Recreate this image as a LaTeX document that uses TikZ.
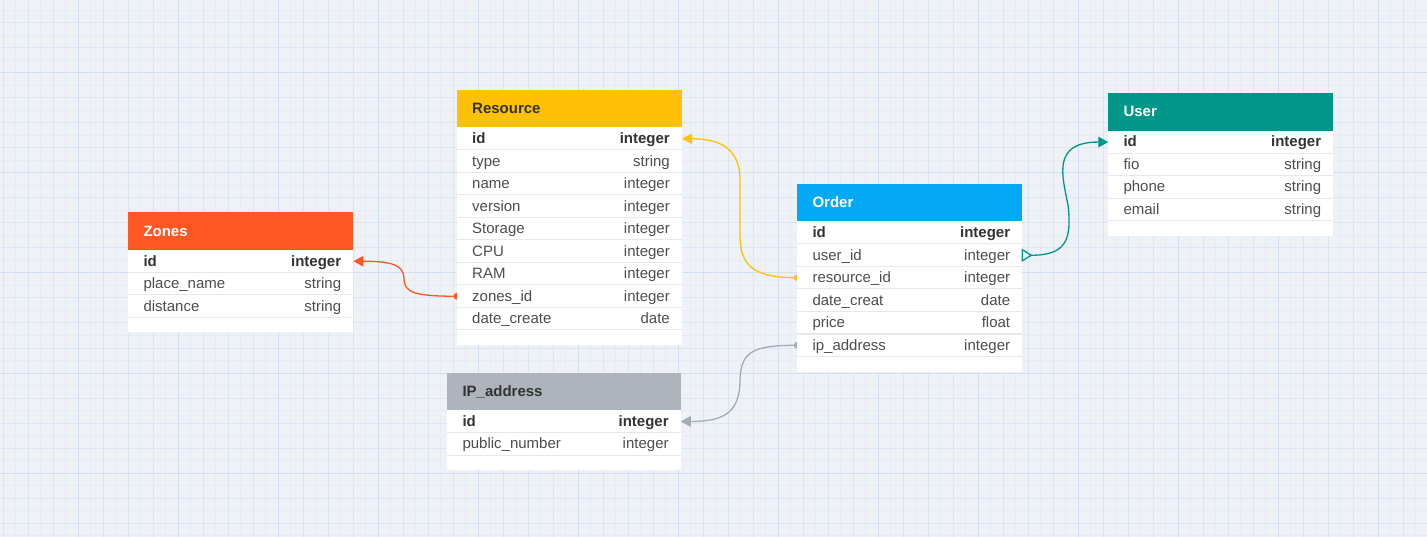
\documentclass[tikz,border=0pt]{standalone}
\usepackage{fontspec}
\setmainfont{Liberation Sans}
\usetikzlibrary{arrows.meta}

\definecolor{canvas}{HTML}{EEF1F5}
\definecolor{gridfaint}{HTML}{E6ECF4}
\definecolor{gridmid}{HTML}{DCE5F3}
\definecolor{gridmajor}{HTML}{D2DFF3}
\definecolor{zonesc}{HTML}{FF5722}
\definecolor{resc}{HTML}{FFC107}
\definecolor{orderc}{HTML}{03A9F4}
\definecolor{userc}{HTML}{009688}
\definecolor{ipc}{HTML}{ADB4BB}
\definecolor{ipline}{HTML}{A3ABB3}
\definecolor{keytext}{HTML}{333333}
\definecolor{rowtext}{HTML}{4D4D4D}
\definecolor{sepline}{HTML}{E6E8EB}

\pgfdeclarelayer{canvaslayer}
\pgfdeclarelayer{edges}
\pgfsetlayers{canvaslayer,edges,main}

\newcommand\tabfont{\fontsize{15}{18}\selectfont}
\newcommand\keyfield{\bfseries\color{keytext}}

% #1 name, #2 left, #3 top, #4 width, #5 header fill, #6 title colour,
% #7 title, #8 rows (field/type), #9 number of rows
\newcommand\ertable[9]{%
  \fill[#5] (#2,#3) rectangle ++(#4,37.5);
  \node[tabletitle, text=#6] (#1-title) at (#2+15,#3+18.75+4.8) {#7};
  \fill[white] (#2,#3+37.5) rectangle ++(#4,#9*22.5+15);
  \foreach [count=\i] \fname/\ftype in {#8} {
    \pgfmathsetmacro\rowtop{#3+37.5+(\i-1)*22.5}
    \draw[rowsep] (#2,\rowtop+22.5) -- ++(#4,0);
    \node[fieldname] (#1-\i) at (#2+15,\rowtop+11.25+4.8) {\fname};
    \node[fieldtype] (#1-\i-type) at (#2+#4-12,\rowtop+11.25+4.8) {\ftype};
    \coordinate (#1-\i-l) at (#2,\rowtop+11.25);
    \coordinate (#1-\i-r) at (#2+#4,\rowtop+11.25);
  }%
}

\begin{document}
\begin{tikzpicture}[x=1pt,y=-1pt,
  tabletitle/.style={anchor=base west, inner sep=0pt, font=\tabfont\bfseries},
  fieldname/.style={anchor=base west, inner sep=0pt, font=\tabfont, text=rowtext},
  fieldtype/.style={anchor=base east, inner sep=0pt, font=\tabfont, text=rowtext},
  rowsep/.style={draw=sepline, line width=1pt},
  link/.style={line width=1.3pt, -{Triangle[length=10pt,width=10.5pt]}},
  crowfoot/.style={line width=1.3pt}]

\useasboundingbox (0,0) rectangle (1427,537);

% canvas with grid
\begin{pgfonlayer}{canvaslayer}
  \fill[canvas] (0,0) rectangle (1427,537);
  \foreach \x in {3,15.5,...,1427} \draw[gridfaint, line width=1pt] (\x,0) -- (\x,537);
  \foreach \y in {-2,10.5,...,537} \draw[gridfaint, line width=1pt] (0,\y) -- (1427,\y);
  \foreach \x in {3,28,...,1427} \draw[gridmid, line width=1pt] (\x,0) -- (\x,537);
  \foreach \y in {-2,23,...,537} \draw[gridmid, line width=1pt] (0,\y) -- (1427,\y);
  \foreach \x in {78,178,...,1427} \draw[gridmajor, line width=1pt] (\x,0) -- (\x,537);
  \foreach \y in {73,173,...,537} \draw[gridmajor, line width=1pt] (0,\y) -- (1427,\y);
\end{pgfonlayer}

% tables
\ertable{zon}{128.3}{212.5}{225}{zonesc}{white}{Zones}
  {{\keyfield id}/{\keyfield integer}, place\_name/string, distance/string}{3}
\ertable{res}{457}{90}{225}{resc}{keytext}{Resource}
  {{\keyfield id}/{\keyfield integer}, type/string, name/integer, version/integer,
   Storage/integer, CPU/integer, RAM/integer, zones\_id/integer, date\_create/date}{9}
\ertable{ord}{797.3}{184}{225}{orderc}{white}{Order}
  {{\keyfield id}/{\keyfield integer}, user\_id/integer, resource\_id/integer,
   date\_creat/date, price/float, ip\_address/integer}{6}
\ertable{usr}{1108.3}{93.3}{225}{userc}{white}{User}
  {{\keyfield id}/{\keyfield integer}, fio/string, phone/string, email/string}{4}
\ertable{ip}{447.3}{372.7}{233.5}{ipc}{keytext}{IP\_address}
  {{\keyfield id}/{\keyfield integer}, public\_number/integer}{2}

% relations
\begin{pgfonlayer}{edges}
  \fill[zonesc] (res-8-l) circle[radius=3.5];
  \draw[link, zonesc] (res-8-l) .. controls +(-42,0) and +(0,14) .. (404,278.75)
        .. controls +(0,-14) and +(38,0) .. (zon-1-r);

  \fill[resc] (ord-3-l) circle[radius=3.5];
  \draw[link, resc] (ord-3-l) .. controls +(-45,0) and +(0,30) .. (740,235)
        -- (740,180) .. controls +(0,-30) and +(40,0) .. (res-1-r);

  \fill[ipline] (ord-6-l) circle[radius=3.5];
  \draw[link, ipline] (ord-6-l) .. controls (752,345.25) and (741,352) .. (740,380)
        .. controls (740,414) and (722,421.45) .. (ip-1-r);

  \draw[link, userc] ([xshift=9pt]ord-2-r) .. controls (1066,255.25) and (1072,240) .. (1068,205)
        .. controls (1062,175) and (1052,142.05) .. (usr-1-l);
\end{pgfonlayer}
\draw[crowfoot, userc] ([yshift=5.5pt]ord-2-r) -- ([xshift=9pt]ord-2-r) -- ([yshift=-5.5pt]ord-2-r) -- cycle;

\end{tikzpicture}
\end{document}
